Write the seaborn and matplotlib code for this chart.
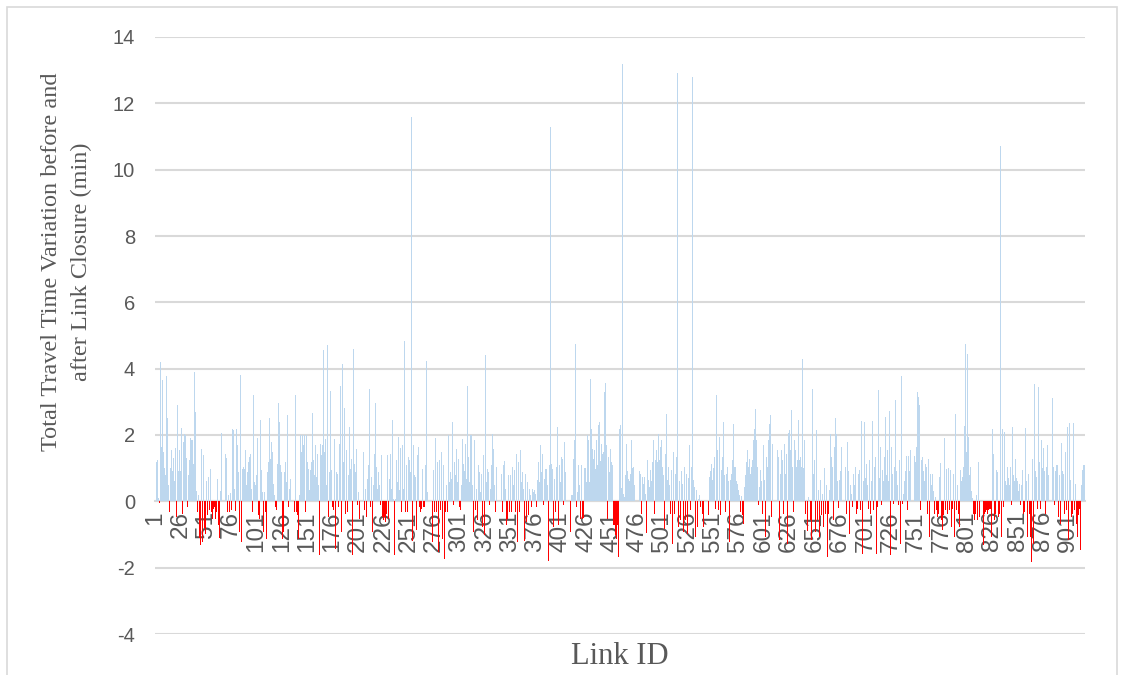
import numpy as np
import pandas as pd
import matplotlib
matplotlib.use("Agg")
import matplotlib.pyplot as plt
import seaborn as sns
from matplotlib.patches import Rectangle

# Total travel time variation (min) per link
vals_001_100 = [
    -1.5, 1.2, 1.25, 0.1, -0.05, 4.2, 1.64, 3.67, 1.5, 1.0, 0.8, 3.77, 2.5, 0.5, -0.32, 1.0, 1.54, 0.9, 1.3, 0.6, 1.6, -0.47, 2.9, 0.9, 1.54,
    0.9, 2.2, -0.37, 1.8, 2.04, 2.0, 1.3, -0.17, 0.8, 1.25, 1.9, 1.84, 1.84, 1.14, 3.9, 2.7, 0.3, -0.32, 0.2, -1.12, -1.33, 1.57, -1.23, 1.4, -0.8,
    -0.97, 0.6, -0.42, 0.73, -0.27, 0.98, -0.32, -0.52, -0.22, -0.17, -0.52, -0.32, 0.66, -0.7, -1.12, 0.3, 2.07, -0.32, 1.59, 1.44, 1.3, -0.32, 0.2, -0.32, 0.25,
    -0.27, 2.19, 2.14, 0.38, -0.3, 2.17, 1.7, 0.88, -0.92, 3.82, -1.23, 0.98, 1.03, 0.98, 1.54, 0.48, 0.88, 1.19, 1.34, 1.44, 0.38, -0.32, 3.22, 0.58, 0.48,
]
vals_101_200 = [
    0.78, 1.9, -0.42, -0.52, 2.44, 0.93, 0.28, -0.92, 0.28, -0.32, -1.13, 0.88, 1.19, 2.5, 1.29, 1.79, 1.49, 0.53, 0.18, -0.17, -0.27, 1.14, 2.95, 2.4, 1.09,
    0.88, -1.13, -0.92, 0.88, 1.19, 0.58, 2.6, -0.17, 0.38, 0.68, 1.79, 2.64, -0.32, 3.22, -0.32, -0.42, -1.13, 0.18, 2.0, 1.49, 2.0, 1.69, 2.0, -0.32, 2.0,
    1.19, 0.98, 0.33, 0.93, 1.19, 2.67, 1.24, 0.78, 1.69, 0.73, 1.44, 0.48, -1.63, 1.74, 1.39, 1.69, 4.55, 1.49, 1.89, 0.48, 4.72, -0.47, 0.88, 3.32, 0.93,
    -0.17, -0.27, 1.89, -1.43, 0.88, 0.83, -0.17, 1.74, 3.47, -0.92, 4.15, 1.19, 2.8, -0.37, 1.54, -0.32, 0.78, 2.24, 0.98, 1.29, -1.63, 4.58, 1.14, 0.88, 1.59,
]
vals_201_300 = [
    -0.12, 0.28, -0.52, 0.48, 3.4, 1.49, -0.27, 0.38, -0.47, 0.68, 1.09, 3.4, -0.17, 0.73, -0.92, 0.48, 1.44, 2.97, 1.04, 0.38, 0.88, 0.48, -0.12, 1.39, -0.47,
    -0.57, -0.47, -0.62, -0.37, 1.39, -0.52, 0.68, 1.44, 0.38, 2.44, 0.08, -1.63, 0.08, 1.24, 0.58, 1.94, 0.33, 1.61, -0.32, 1.69, 0.38, 4.82, -0.32, 1.09, -0.32,
    1.34, 1.24, 0.88, 11.6, -1.2, 1.69, 0.78, 0.73, -0.87, 1.4, 1.64, -0.17, -0.32, -0.22, 0.98, -0.17, -0.17, 1.09, 4.22, 0.28, -0.32, -0.12, 1.84, -1.22, 0.93,
    -0.32, 1.91, -0.32, 1.19, -1.53, 1.24, -0.27, 1.49, -1.13, 1.09, -1.73, -0.32, 0.48, -0.32, 2.0, 0.58, 0.88, 0.68, 2.39, -0.12, 1.19, 0.78, 1.57, 0.58, 1.29,
]
vals_301_400 = [
    -0.17, -0.27, 0.48, 1.89, 1.14, 0.9, 1.74, 0.68, 3.47, 1.34, 0.58, 2.0, 2.01, 0.48, -0.92, 1.84, -0.27, 0.38, -0.57, 1.09, 0.88, 0.28, 0.83, -0.77, 1.39,
    -1.03, 4.4, 0.58, 0.96, 0.88, -0.12, 0.38, 1.09, 2.04, 1.59, 0.48, -0.32, 1.04, -0.72, 1.09, -1.13, 0.83, -0.32, 1.09, 1.21, 0.38, -0.72, -0.52, 0.78, -0.32,
    0.8, -0.32, 1.04, 0.48, 0.93, -0.32, 1.44, -1.22, 1.19, -0.32, 1.54, 0.58, 0.88, 0.38, -1.21, 0.83, -0.62, 0.58, -0.42, 0.38, 0.18, -0.17, 0.38, 0.28, 0.33,
    0.23, -0.17, 0.63, 1.19, 0.58, 1.69, 0.88, 1.44, -0.12, 0.68, 0.98, 0.96, 0.48, -1.8, 1.09, 11.3, 1.14, 0.98, -0.77, 0.68, -0.32, 1.04, 2.24, -0.72, 1.09,
]
vals_401_500 = [
    0.58, 1.34, 1.29, -0.12, 1.79, 0.88, 2.71, 1.29, 0.68, -0.92, 0.18, 0.18, 1.29, 1.84, 4.75, -0.17, 0.28, 1.09, 0.48, -0.52, 1.09, -0.52, -0.5, 1.01, 1.01,
    0.58, 1.99, 1.84, 0.58, 3.7, 2.19, 1.59, 1.29, 1.54, 0.98, 1.84, 1.09, 2.29, 2.39, 1.21, 1.74, 1.44, 1.49, 3.3, 3.58, 1.69, -0.52, 1.34, 0.88, 1.59,
    1.19, 1.09, -0.72, -0.72, -1.03, -1.13, -0.72, -1.68, 2.19, 2.29, 0.4, 13.2, 0.23, 0.13, 0.8, 1.74, 0.9, 0.68, 0.6, 0.83, 1.84, 1.0, 1.04, 0.5, -0.57,
    4.2, 2.16, 0.9, 0.83, -0.37, 0.73, 0.53, 0.73, 0.23, -0.95, 1.24, 0.63, 0.43, 0.93, 0.6, 1.2, 1.86, -0.37, 1.24, 1.54, 1.2, 2.04, 1.24, 1.64, 1.84,
]
vals_501_600 = [
    1.04, 0.8, -0.82, 1.44, 2.64, 0.63, 1.04, 0.5, -0.37, 0.93, -1.28, 1.49, -0.37, 0.83, 1.34, 12.9, -0.77, 0.6, -0.57, 0.9, 0.53, -0.93, 1.04, -0.57, 0.83,
    -0.98, 0.7, 1.69, -0.27, 1.04, 12.8, 0.63, 0.43, -1.07, 0.33, -0.77, 0.08, 0.2, -0.17, 0.05, -0.37, -0.77, -1.07, -1.18, 0.93, -0.42, 0.73, 0.9, 1.14, 0.63,
    1.0, 1.34, -0.22, 3.2, 1.54, -0.27, 1.94, -0.42, 0.93, 1.34, 2.39, 0.8, -0.32, 0.83, 1.04, 0.6, -1.23, 0.63, 0.83, 1.24, 2.34, 1.04, 1.04, 0.6, 0.53,
    0.33, 0.2, -0.32, 0.15, -0.42, -0.67, 0.43, 0.8, 1.2, 1.54, 1.04, 1.29, 0.83, 1.04, 1.24, 1.84, 2.19, 2.79, 1.84, 1.04, -0.12, 0.43, 0.93, 0.6, -0.37,
]
vals_601_700 = [
    1.69, 0.63, -1.07, 1.34, 1.04, 1.84, 2.32, 2.59, -0.47, 1.74, 1.84, -1.47, 1.24, 1.54, 1.34, -1.18, 0.83, 1.54, 1.24, -0.37, 1.74, 0.83, 1.44, -1.28, 2.06,
    2.14, 1.54, 2.74, 1.04, -0.32, 1.84, 1.54, 1.04, 1.24, 2.44, 1.24, 1.34, 1.04, 4.28, 1.0, 1.84, -0.37, 0.03, -0.88, 0.13, 0.03, -0.57, -1.18, 3.4, 0.83,
    1.24, -0.93, 2.14, -0.57, 0.33, -1.08, 0.63, -0.42, 0.23, -0.77, 1.0, -0.37, 0.5, -1.68, -0.37, 0.33, 2.04, 1.34, 1.04, -0.57, 1.64, 2.52, 2.04, 0.6, -0.2,
    0.63, 0.9, 1.64, 1.74, 0.8, 1.04, -0.37, 1.79, 0.9, -0.98, 0.5, 0.23, -0.17, 0.83, 0.5, 1.04, -0.37, -0.22, 0.83, 0.93, -0.27, 2.42, -1.58, 0.6, 2.4,
]
vals_701_800 = [
    0.7, 1.14, 0.5, -0.22, 1.24, -0.37, 0.6, 2.41, -0.27, 1.04, 1.34, -1.58, -0.17, 3.37, 0.7, 1.64, -0.12, 0.93, 0.6, 1.34, 2.54, 0.8, 1.54, 0.6, 2.71,
    -1.63, 1.64, 0.83, -0.07, 1.04, 3.05, 0.9, 0.5, -0.12, 1.24, -1.28, 3.77, -0.07, 0.23, 0.6, 0.9, 1.38, -0.27, 1.38, 0.9, 1.54, 1.04, 0.8, 1.38, 1.2,
    1.64, 3.3, 3.15, 2.9, -0.27, 1.24, 1.34, 0.9, 0.6, 1.14, 1.04, -0.37, 1.29, -1.07, 0.83, 0.5, 0.83, 0.3, -0.37, 0.13, -0.27, -0.47, -0.37, 0.73, 1.16,
    -0.57, -0.87, -0.42, 1.92, -0.27, 0.98, -0.37, 1.01, -0.27, 0.93, -0.77, -0.22, 0.83, -1.07, 2.64, -0.27, 0.5, -0.37, -0.77, 0.93, 0.6, 0.73, 1.04, 2.26, 4.75,
]
vals_801_917 = [
    1.5, 4.45, 1.94, 0.8, 1.04, 0.3, 0.1, -0.37, -0.57, -0.37, 0.2, -0.57, 1.19, -0.47, -0.77, -0.77, -1.33, -0.37, -0.32, -0.27, -0.37, -0.27, -0.22, -0.22, -1.07,
    2.19, 1.44, -0.57, -0.37, 0.93, 0.88, -0.47, -0.37, 10.7, -1.07, 2.19, -0.17, 2.09, 0.6, 0.5, 1.04, 0.7, 0.5, 1.04, -0.12, 2.24, 0.8, 0.6, 1.29, 0.7,
    0.6, 0.3, 0.53, -0.12, 0.5, 0.93, -0.37, -0.32, 2.21, 0.6, -1.07, 0.83, -0.37, -1.07, -1.83, 1.29, -1.28, 3.55, 0.9, 0.73, -0.22, 3.45, 1.2, -0.22, 1.84,
    1.0, 1.61, 0.9, -0.37, 1.04, 1.69, 0.8, 1.54, -0.17, 3.13, 1.04, -0.12, 0.9, 1.09, 1.09, -0.47, 0.8, -0.67, 1.76, 0.9, 0.83, -0.37, 1.49, -0.27, 2.24,
    -1.18, 2.36, 0.63, -0.47, -0.37, 2.36, -0.27, 0.53, -0.67, -1.07, -0.42, -0.22, -1.47, 0.5, 0.93, 1.09, 1.09,
]

x_tick_labels = [1, 26, 51, 76, 101, 126, 151, 176, 201, 226, 251, 276, 301, 326, 351, 376,
                 401, 426, 451, 476, 501, 526, 551, 576, 601, 626, 651, 676, 701, 726, 751,
                 776, 801, 826, 851, 876, 901]
y_tick_values = [-4, -2, 0, 2, 4, 6, 8, 10, 12, 14]
y_title = "Total Travel Time Variation before and\nafter Link Closure (min)"
x_title = "Link ID"

values = (vals_001_100 + vals_101_200 + vals_201_300 + vals_301_400 + vals_401_500
          + vals_501_600 + vals_601_700 + vals_701_800 + vals_801_917)
link_id = np.arange(1, len(values) + 1)
df = pd.DataFrame({"link": link_id, "value": values})
df["sign"] = np.where(df["value"] < 0, "neg", "pos")

sns.set_theme(style="white")
plt.rcParams["font.family"] = ["Liberation Sans", "DejaVu Sans"]

W, H = 1121, 675
fig = plt.figure(figsize=(W / 100, H / 100), dpi=100)
left, right, top, bottom = 154.5, 1085, 37, 634
ax = fig.add_axes([left / W, 1 - bottom / H, (right - left) / W, (bottom - top) / H])

sns.barplot(data=df, x="link", y="value", hue="sign",
            palette={"pos": "#BDD7EE", "neg": "#FF0000"}, saturation=1,
            native_scale=True, width=0.95, dodge=False, legend=False,
            errorbar=None, linewidth=0, ax=ax)
for p in ax.patches:
    p.set_zorder(3)

ax.set_xlim(0.5, len(values) + 0.5)
ax.set_ylim(-4, 14)
ax.set_yticks(y_tick_values)
ax.set_yticklabels([str(v) for v in y_tick_values])
ax.set_xticks(x_tick_labels)
ax.set_xticklabels([str(v) for v in x_tick_labels])
ax.set_xlabel("")
ax.set_ylabel("")
ax.set_axisbelow(True)
ax.yaxis.grid(True, color="#D9D9D9", linewidth=1.5)
ax.xaxis.grid(False)
for s in ["top", "right", "left"]:
    ax.spines[s].set_visible(False)
ax.spines["bottom"].set_position(("data", 0))
ax.spines["bottom"].set_color("#D9D9D9")
ax.spines["bottom"].set_linewidth(1.5)
ax.spines["bottom"].set_zorder(0.6)
ax.tick_params(axis="y", length=0, pad=14, labelsize=14.5, labelcolor="#595959")
ax.tick_params(axis="x", length=0, pad=7, labelsize=17.5, labelcolor="#595959",
               labelrotation=90)
for lab in ax.get_xticklabels():
    lab.set_rotation(90)
    lab.set_va("top")
    lab.set_ha("center")

fig.text(67 / W, 1 - 262 / H, y_title, rotation=90, ha="center", va="center",
         multialignment="center", family="Liberation Serif", fontsize=17.5,
         color="#595959", linespacing=1.55)
fig.text(620 / W, 1 - 657 / H, x_title, ha="center", va="center",
         family="Liberation Serif", fontsize=22, color="#595959")

fig.patches.append(Rectangle((6.5 / W, -0.05), (1117 - 6.5) / W, 1.05 - 6.5 / H,
                             transform=fig.transFigure, fill=False,
                             edgecolor="#D9D9D9", linewidth=1.2))

fig.savefig("out.png", dpi=100)
